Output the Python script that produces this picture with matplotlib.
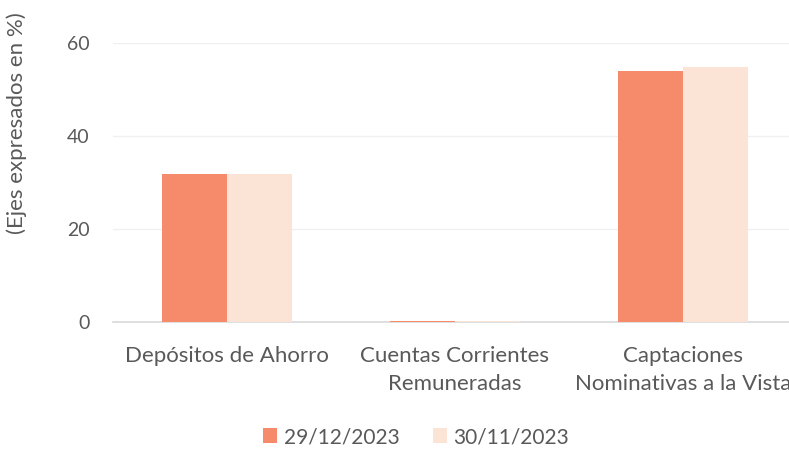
import matplotlib
matplotlib.use("Agg")
import matplotlib.pyplot as plt
from matplotlib.patches import Patch
import numpy as np

categories = ["Depósitos de Ahorro", "Cuentas Corrientes\nRemuneradas", "Captaciones\nNominativas a la Vista"]
series_names = ["29/12/2023", "30/11/2023"]
values_dic = [31.8, 0.3, 54.0]
values_nov = [31.8, 0.2, 54.8]
yticks = [0, 20, 40, 60]

c1 = "#F68B6B"
c2 = "#FBE4D6"
txt = "#595959"

plt.rcParams['font.family'] = ['Lato', 'DejaVu Sans']

fig = plt.figure(figsize=(7.89, 4.49), dpi=100)
ax = fig.add_axes([113/789, 1-322/449, 684/789, 279/449])

x = np.arange(len(categories))
w = 0.285
ax.bar(x - w/2, values_dic, w, color=c1, zorder=3)
ax.bar(x + w/2, values_nov, w, color=c2, zorder=3)

ax.set_xlim(-0.5, 2.5)
ax.set_ylim(0, 60)
ax.set_yticks(yticks)
ax.set_yticklabels([str(t) for t in yticks])
ax.grid(axis='y', color="#F0F0F0", linewidth=1, zorder=0)
for s in ['top', 'right', 'left']:
    ax.spines[s].set_visible(False)
ax.spines['bottom'].set_color("#D9D9D9")
ax.spines['bottom'].set_linewidth(1.2)
ax.spines['bottom'].set_zorder(2.5)
ax.tick_params(axis='y', length=0, pad=17, labelsize=14, labelcolor=txt)
ax.tick_params(axis='x', length=0, pad=17, labelsize=16, labelcolor=txt)
ax.set_xticks(x)
ax.set_xticklabels(categories, linespacing=1.5)

fig.text(17/789, 1-123/449, "(Ejes expresados en %)", rotation=90, ha='center', va='center',
         fontsize=16, color=txt)

handles = [Patch(facecolor=c1), Patch(facecolor=c2)]
fig.legend(handles, series_names, loc='center', bbox_to_anchor=(416/789, 1-437/449), ncol=2,
           frameon=False, fontsize=15, labelcolor=txt, handlelength=0.7, handleheight=0.7,
           handletextpad=0.3, columnspacing=1.6)

fig.savefig("out.png", dpi=100)
